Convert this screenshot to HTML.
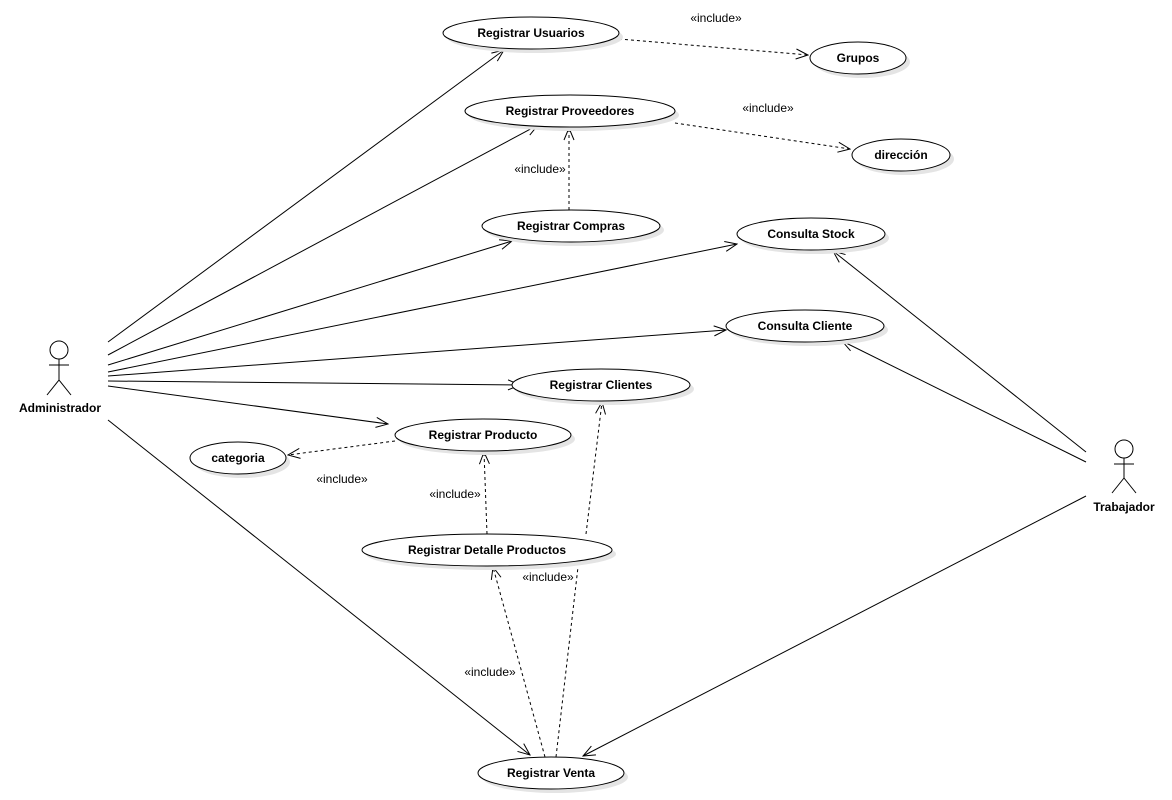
<!DOCTYPE html>
<html><head><meta charset="utf-8"><style>
body{margin:0;background:#fff}
svg{display:block;font-family:"Liberation Sans",sans-serif}
.e{fill:#fff;stroke:#000;stroke-width:1}
.s{fill:#e4e4e4}
.t{font-size:12px;font-weight:bold;text-anchor:middle}
.l{font-size:12px;text-anchor:middle}
.a{stroke:#000;fill:none;stroke-width:1}
.d{stroke:#000;fill:none;stroke-width:1;stroke-dasharray:3,3}
</style></head><body>
<svg width="1172" height="800" viewBox="0 0 1172 800">
<defs><marker id="m" markerWidth="14" markerHeight="12" refX="13" refY="6" orient="auto" markerUnits="userSpaceOnUse"><path d="M1,1 L13,6 L1,11" fill="none" stroke="#000"/></marker></defs>
<g>
<!-- associations -->
<line class="a" x1="108" y1="342" x2="504" y2="50" marker-end="url(#m)"/>
<line class="a" x1="108" y1="355" x2="538" y2="125" marker-end="url(#m)"/>
<line class="a" x1="108" y1="365" x2="512" y2="241" marker-end="url(#m)"/>
<line class="a" x1="108" y1="372" x2="737" y2="244" marker-end="url(#m)"/>
<line class="a" x1="108" y1="376" x2="726" y2="330" marker-end="url(#m)"/>
<line class="a" x1="108" y1="381" x2="520" y2="385" marker-end="url(#m)"/>
<line class="a" x1="108" y1="386" x2="388" y2="424" marker-end="url(#m)"/>
<line class="a" x1="108" y1="420" x2="530" y2="755" marker-end="url(#m)"/>
<line class="a" x1="1086" y1="452" x2="833" y2="251" marker-end="url(#m)"/>
<line class="a" x1="1086" y1="462" x2="842" y2="341" marker-end="url(#m)"/>
<line class="a" x1="1086" y1="496" x2="583" y2="756" marker-end="url(#m)"/>
<!-- includes -->
<line class="d" x1="619" y1="39" x2="808" y2="55" marker-end="url(#m)"/>
<line class="d" x1="675" y1="123" x2="850" y2="149" marker-end="url(#m)"/>
<line class="d" x1="569" y1="210" x2="569" y2="128" marker-end="url(#m)"/>
<line class="d" x1="395" y1="441" x2="288" y2="455" marker-end="url(#m)"/>
<line class="d" x1="487" y1="534" x2="484" y2="452" marker-end="url(#m)"/>
<line class="d" x1="586" y1="534" x2="602" y2="402" marker-end="url(#m)"/>
<line class="d" x1="545" y1="757" x2="493" y2="567" marker-end="url(#m)"/>
<line class="d" x1="556" y1="757" x2="578" y2="567"/>
<text class="l" x="716" y="22">«include»</text>
<text class="l" x="768" y="112">«include»</text>
<text class="l" x="540" y="173">«include»</text>
<text class="l" x="342" y="483">«include»</text>
<text class="l" x="455" y="498">«include»</text>
<text class="l" x="548" y="581">«include»</text>
<text class="l" x="490" y="676">«include»</text>
</g>
<g id="uc">
<ellipse class="s" cx="535" cy="37" rx="88" ry="16"/><ellipse class="e" cx="531" cy="33" rx="88" ry="16"/><text class="t" x="531" y="37">Registrar Usuarios</text>
<ellipse class="s" cx="862" cy="62" rx="48" ry="16"/><ellipse class="e" cx="858" cy="58" rx="48" ry="16"/><text class="t" x="858" y="62">Grupos</text>
<ellipse class="s" cx="574" cy="115" rx="105" ry="16"/><ellipse class="e" cx="570" cy="111" rx="105" ry="16"/><text class="t" x="570" y="115">Registrar Proveedores</text>
<ellipse class="s" cx="905" cy="159" rx="49" ry="16"/><ellipse class="e" cx="901" cy="155" rx="49" ry="16"/><text class="t" x="901" y="159">dirección</text>
<ellipse class="s" cx="575" cy="230" rx="89" ry="16"/><ellipse class="e" cx="571" cy="226" rx="89" ry="16"/><text class="t" x="571" y="230">Registrar Compras</text>
<ellipse class="s" cx="815" cy="238" rx="74" ry="16"/><ellipse class="e" cx="811" cy="234" rx="74" ry="16"/><text class="t" x="811" y="238">Consulta Stock</text>
<ellipse class="s" cx="809" cy="330" rx="79" ry="16"/><ellipse class="e" cx="805" cy="326" rx="79" ry="16"/><text class="t" x="805" y="330">Consulta Cliente</text>
<ellipse class="s" cx="605" cy="389" rx="89" ry="16"/><ellipse class="e" cx="601" cy="385" rx="89" ry="16"/><text class="t" x="601" y="389">Registrar Clientes</text>
<ellipse class="s" cx="487" cy="439" rx="88" ry="16"/><ellipse class="e" cx="483" cy="435" rx="88" ry="16"/><text class="t" x="483" y="439">Registrar Producto</text>
<ellipse class="s" cx="242" cy="462" rx="48" ry="16"/><ellipse class="e" cx="238" cy="458" rx="48" ry="16"/><text class="t" x="238" y="462">categoria</text>
<ellipse class="s" cx="491" cy="554" rx="125" ry="16"/><ellipse class="e" cx="487" cy="550" rx="125" ry="16"/><text class="t" x="487" y="554">Registrar Detalle Productos</text>
<ellipse class="s" cx="555" cy="777" rx="73" ry="16"/><ellipse class="e" cx="551" cy="773" rx="73" ry="16"/><text class="t" x="551" y="777">Registrar Venta</text>
</g>
<g class="a">
<circle cx="59" cy="350" r="9"/><line x1="59" y1="359" x2="59" y2="380"/><line x1="49" y1="365" x2="69" y2="365"/><line x1="59" y1="380" x2="47" y2="395"/><line x1="59" y1="380" x2="71" y2="395"/>
<circle cx="1124" cy="449" r="9"/><line x1="1124" y1="458" x2="1124" y2="478"/><line x1="1114" y1="464" x2="1134" y2="464"/><line x1="1124" y1="478" x2="1112" y2="493"/><line x1="1124" y1="478" x2="1136" y2="493"/>
</g>
<text class="t" x="60" y="412">Administrador</text>
<text class="t" x="1124" y="511">Trabajador</text>
</svg>
</body></html>
